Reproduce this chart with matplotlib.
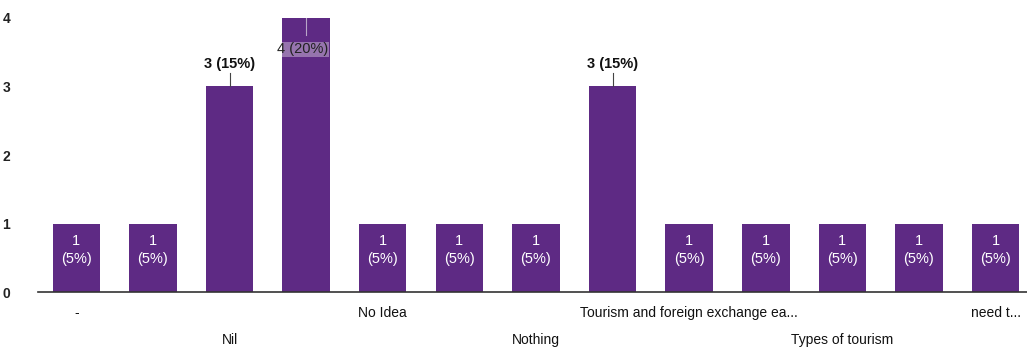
import matplotlib.pyplot as plt

# responses per answer (Google Forms style bar chart)
counts = [1, 1, 3, 4, 1, 1, 1, 3, 1, 1, 1, 1, 1]
percents = [5, 5, 15, 20, 5, 5, 5, 15, 5, 5, 5, 5, 5]
tick_labels = ['-', '', 'Nil', '', 'No Idea', '', 'Nothing', '',
               'Tourism and foreign exchange ea...', '', 'Types of tourism', '', 'need t...']
# shown labels alternate between two rows
label_row = [0, 0, 1, 0, 0, 0, 1, 0, 0, 0, 1, 0, 0]

purple = '#5e2a84'

plt.rcParams['font.family'] = ['Liberation Sans', 'DejaVu Sans']

fig = plt.figure(figsize=(10.27, 3.58), dpi=100)
ax = fig.add_axes([0.037, 0.184, 0.963, 0.766])

x = list(range(len(counts)))
ax.bar(x, counts, width=0.62, color=purple, zorder=2)

for i, (c, p) in enumerate(zip(counts, percents)):
    if c == 1:
        ax.text(i, c - 0.38, f'{c}\n({p}%)', ha='center', va='center',
                color='white', fontsize=10.5, linespacing=1.35)
    elif c == max(counts):
        ax.plot([i, i], [c, c - 0.25], color='#b9a6c8', lw=0.8, zorder=3)
        ax.text(i - 0.05, c - 0.46, f'{c} ({p}%)', ha='center', va='center',
                color='#222222', fontsize=10.5, zorder=4,
                bbox=dict(facecolor='white', edgecolor='none', alpha=0.35, pad=0.5))
    else:
        ax.plot([i, i], [c, c + 0.2], color='#444444', lw=0.8)
        ax.text(i, c + 0.22, f'{c} ({p}%)', ha='center', va='bottom',
                color='#111111', fontsize=10.5, fontweight='bold')

ax.set_xticks(x)
ax.set_xticklabels(['\n' * r + t for t, r in zip(tick_labels, label_row)],
                   fontsize=10, color='#111111', linespacing=2.2)
ax.tick_params(axis='x', length=0, pad=10)
ax.tick_params(axis='y', length=0, pad=20, labelsize=10)
for lab in ax.get_yticklabels():
    lab.set_fontweight('bold')
    lab.set_color('#222222')
ax.set_yticks([0, 1, 2, 3, 4])
ax.set_ylim(0, 4)
ax.set_xlim(-0.5, 12.41)

for s in ['top', 'right', 'left']:
    ax.spines[s].set_visible(False)
ax.spines['bottom'].set_color('#333333')
ax.spines['bottom'].set_linewidth(1.2)

fig.savefig('out.png', dpi=100)
